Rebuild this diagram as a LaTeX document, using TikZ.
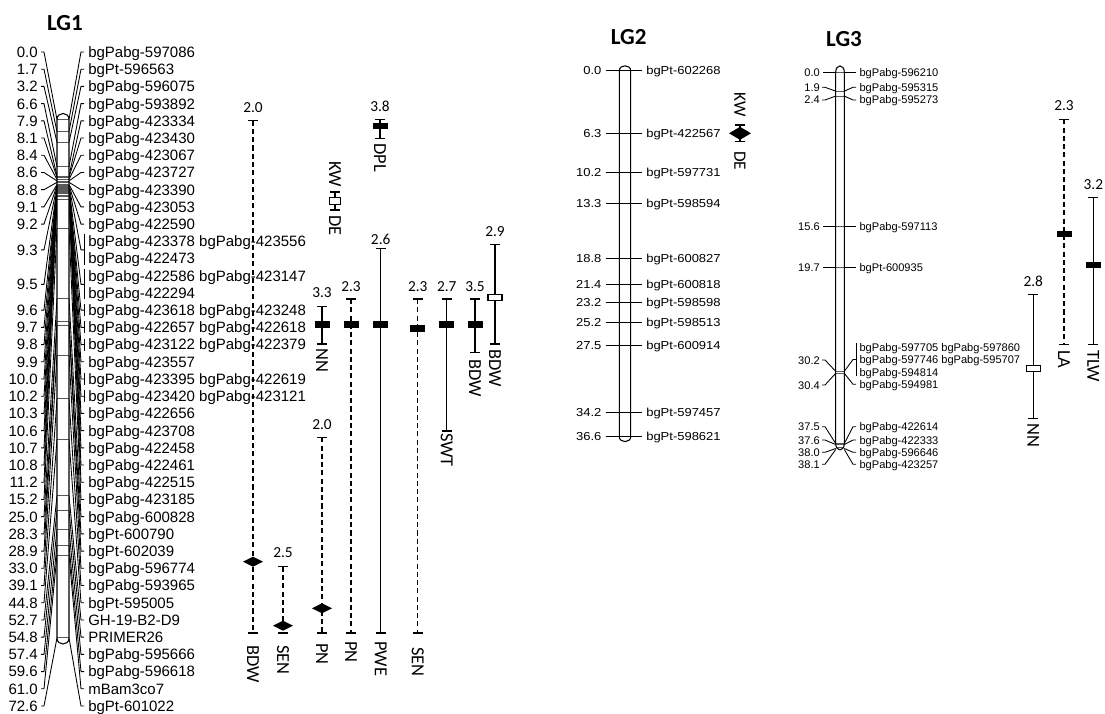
\documentclass[tikz,border=0pt]{standalone}
\usepackage{fontspec}
\setmainfont{Liberation Sans}
\newfontfamily\carl{Carlito}
\newfontfamily\lgtwo[FakeStretch=1.12]{Liberation Sans}
\tikzset{
 conn/.style={line width=0.65pt},
 qline/.style={line width=0.9pt},
 qdash/.style={line width=0.9pt, dash pattern=on 3.8pt off 2.4pt},
 band/.style={line width=0.6pt, black!65},
 chromo/.style={line width=0.8pt},
 lab1/.style={inner sep=0pt, font=\fontsize{11.25pt}{12pt}\selectfont},
 lab2/.style={inner sep=0pt, font=\lgtwo\fontsize{8.7pt}{10pt}\selectfont},
 lab3/.style={inner sep=0pt, font=\fontsize{8.3pt}{10pt}\selectfont},
 num/.style={inner sep=0pt, font=\carl\fontsize{11.5pt}{12pt}\selectfont},
 trait/.style={inner sep=0pt, rotate=-90, anchor=west, font=\carl\fontsize{13.8pt}{14pt}\selectfont},
 traitb/.style={inner sep=0pt, rotate=-90, anchor=west, font=\carl\fontsize{13pt}{14pt}\selectfont},
 title/.style={inner sep=0pt, font=\carl\bfseries\fontsize{17.25pt}{18pt}\selectfont},
}
% chromosome outline: #1 style, #2 xl, #3 xr, #4 ytop, #5 ybot, #6 cap control offset
\newcommand\mychromo[6]{%
 \path[#1] (#2,#4) -- (#2,#5) .. controls (#2,#5+#6) and (#3,#5+#6) .. (#3,#5) -- (#3,#4) .. controls (#3,#4-#6) and (#2,#4-#6) .. cycle;}
% QTL: #1 x, #2 ytop, #3 ybot, #4 style, #5 number y, #6 number, #7 label top, #8 label
\newcommand\myqtl[8]{%
 \draw[#4] (#1,#2) -- (#1,#3);
 \draw[qline] (#1-5,#2) -- (#1+5,#2);
 \draw[qline] (#1-5,#3) -- (#1+5,#3);
 \node[num] at (#1,#5) {#6};
 \node[trait] at (#1,#7) {#8};}
\newcommand\blackbox[3]{\fill (#1-7.5,#2-#3) rectangle (#1+7.5,#2+#3);}
\newcommand\openbox[2]{\draw[qline,fill=white] (#1-7,#2-3) rectangle (#1+7,#2+3);}
\newcommand\diam[4]{\fill (#1-#3,#2) -- (#1,#2-#4) -- (#1+#3,#2) -- (#1,#2+#4) -- cycle;}
\begin{document}
\begin{tikzpicture}[x=0.75pt,y=-0.75pt]
\useasboundingbox (0,0) rectangle (1105,713);
\fill[white] (0,0) rectangle (1105,713);

% ================= LG1 =================
\node[title] (t1) at (65,23) {LG1};
\foreach \n/\cm/\rtx in {1/0.0/bgPabg-597086, 2/1.7/bgPt-596563, 3/3.2/bgPabg-596075,
 4/6.6/bgPabg-593892, 5/7.9/bgPabg-423334, 6/8.1/bgPabg-423430, 7/8.4/bgPabg-423067,
 8/8.6/bgPabg-423727, 9/8.8/bgPabg-423390, 10/9.1/bgPabg-423053, 11/9.2/bgPabg-422590,
 16/9.6/bgPabg-423618 bgPabg-423248, 17/9.7/bgPabg-422657 bgPabg-422618,
 18/9.8/bgPabg-423122 bgPabg-422379, 19/9.9/bgPabg-423557,
 20/10.0/bgPabg-423395 bgPabg-422619, 21/10.2/bgPabg-423420 bgPabg-423121,
 22/10.3/bgPabg-422656, 23/10.6/bgPabg-423708, 24/10.7/bgPabg-422458,
 25/10.8/bgPabg-422461, 26/11.2/bgPabg-422515, 27/15.2/bgPabg-423185,
 28/25.0/bgPabg-600828, 29/28.3/bgPt-600790, 30/28.9/bgPt-602039,
 31/33.0/bgPabg-596774, 32/39.1/bgPabg-593965, 33/44.8/bgPt-595005,
 34/52.7/GH-19-B2-D9, 35/54.8/PRIMER26, 36/57.4/bgPabg-595666,
 37/59.6/bgPabg-596618, 38/61.0/mBam3co7, 39/72.6/bgPt-601022}{
 \pgfmathsetmacro\ry{52+(\n-1)*17.21}
 \pgfmathsetmacro\yl{119.5+7.14*\cm}
 \draw[conn] (41,\ry) -- (44,\ry) -- (57,\yl);
 \draw[conn] (69,\yl) -- (81,\ry) -- (84,\ry);
 \node[lab1, anchor=base east] (a\n) at (38,\ry+5.4) {\cm};
 \node[lab1, anchor=base west] (b\n) at (88,\ry+5.4) {\rtx};
}
% grouped rows 12-13 (9.3) and 14-15 (9.5)
\foreach \n/\rtx in {12/bgPabg-423378 bgPabg-423556, 13/bgPabg-422473,
 14/bgPabg-422586 bgPabg-423147, 15/bgPabg-422294}{
 \pgfmathsetmacro\ry{52+(\n-1)*17.21}
 \node[lab1, anchor=base west] (b\n) at (88,\ry+5.4) {\rtx};
}
\foreach \n/\cm in {12/9.3, 14/9.5}{
 \pgfmathsetmacro\ry{52+(\n-1)*17.21}
 \pgfmathsetmacro\rm{\ry+8.6}
 \pgfmathsetmacro\yl{119.5+7.14*\cm}
 \draw[conn] (41,\rm) -- (44,\rm) -- (57,\yl);
 \draw[conn] (69,\yl) -- (81,\rm) -- (84.5,\rm);
 \draw[conn] (84.5,\ry-7) -- (84.5,\ry+17.21+6);
 \node[lab1, anchor=base east] (a\n) at (38,\rm+5.4) {\cm};
}
\foreach \n in {16,17,18,20,21}{
 \pgfmathsetmacro\ry{52+(\n-1)*17.21}
 \draw[conn] (84.5,\ry-6) -- (84.5,\ry+6);
}
% chromosome LG1
\mychromo{fill=white}{57}{69}{119.5}{638}{8}
\foreach \cm in {0.0,1.7,3.2,6.6,7.9,8.1,8.4,8.6,8.8,9.1,9.2,9.3,9.5,9.6,9.7,9.8,9.9,10.0,10.2,10.3,10.6,10.7,10.8,11.2,15.2,25.0,28.3,28.9,33.0,39.1,44.8,52.7,54.8,57.4,59.6,61.0,72.6}{
 \pgfmathsetmacro\yl{119.5+7.14*\cm}
 \draw[band] (57,\yl) -- (69,\yl);
}
\mychromo{draw,chromo}{57}{69}{119.5}{638}{8}

% QTLs LG1
\myqtl{253}{120.7}{633}{qdash}{107.7}{2.0}{645}{BDW}
\diam{253}{561.7}{10}{5}
\myqtl{283}{566.7}{633}{qdash}{553}{2.5}{645}{SEN}
\diam{283}{625.7}{10}{5}
\myqtl{322}{306.7}{344}{qline}{293}{3.3}{348}{NN}
\blackbox{322}{324.3}{3.5}
\myqtl{322}{437.3}{633}{qdash}{425}{2.0}{643}{PN}
\diam{322}{608.3}{10}{5}
\myqtl{351}{299}{633}{qdash}{286.7}{2.3}{641}{PN}
\blackbox{351}{324.3}{3.5}
\myqtl{380.7}{248.3}{633}{qline}{239}{2.6}{641}{PWE}
\blackbox{380.7}{324.3}{3.5}
\myqtl{380}{119.3}{138.3}{qline}{106.7}{3.8}{143}{DPL}
\blackbox{380}{126}{2.8}
\myqtl{417.7}{299}{633}{qdash}{286.7}{2.3}{647}{SEN}
\blackbox{417.7}{328.3}{3.5}
\myqtl{446.7}{299}{431}{qline}{286.7}{2.7}{433}{SWT}
\blackbox{446.7}{324.3}{3.5}
\myqtl{475}{299}{352.7}{qline}{286.7}{3.5}{359}{BDW}
\blackbox{475}{324.3}{3.5}
\myqtl{495}{244.3}{344}{qline}{231.7}{2.9}{349}{BDW}
\openbox{495}{297.7}
% KW / DE on LG1
\draw[qline] (335,192) -- (335,210);
\draw[qline] (330,192) -- (340,192);
\draw[qline] (330,210) -- (340,210);
\draw[qline,fill=white] (329.5,197.5) rectangle (340.5,204.5);
\node[trait, anchor=east] (kw1) at (335,187) {KW};
\node[trait] (de1) at (335,215) {DE};

% ================= LG2 =================
\node[title] (t2) at (628.7,37) {LG2};
\mychromo{fill=white}{619.3}{630.7}{70.7}{436.7}{6.5}
\foreach \cm/\mk in {0.0/bgPt-602268, 6.3/bgPt-422567, 10.2/bgPt-597731, 13.3/bgPt-598594,
 18.8/bgPt-600827, 21.4/bgPt-600818, 23.2/bgPt-598598, 25.2/bgPt-598513, 27.5/bgPt-600914,
 34.2/bgPt-597457, 36.6/bgPt-598621}{
 \pgfmathsetmacro\yy{70.7+10*\cm}
 \draw[conn] (605.7,\yy) -- (641.7,\yy);
 \node[lab2, anchor=base east] at (601.7,\yy+4.15) {\cm};
 \node[lab2, anchor=base west] at (646,\yy+4.15) {\mk};
}
\mychromo{draw,chromo}{619.3}{630.7}{70.7}{436.7}{6.5}
% KW/DE LG2
\draw[qline] (740,125) -- (740,141.7);
\draw[qline] (735,125) -- (745,125);
\draw[qline] (735,141.7) -- (745,141.7);
\diam{740}{133.3}{11}{6.5}
\node[traitb, anchor=east] (kw2) at (740,117) {KW};
\node[traitb] (de2) at (740,151) {DE};

% ================= LG3 =================
\node[title] (t3) at (844,39.2) {LG3};
% straight connectors
\foreach \cm/\mk in {0.0/bgPabg-596210, 15.6/bgPabg-597113, 19.7/bgPt-600935}{
 \pgfmathsetmacro\yy{72.3+9.9*\cm}
 \draw[conn] (823,\yy) -- (856,\yy);
 \node[lab3, anchor=base east] at (820,\yy+4) {\cm};
 \node[lab3, anchor=base west] at (859.3,\yy+4) {\mk};
}
% fanned connectors
\foreach \cm/\ly/\mk in {1.9/87.3/bgPabg-595315, 2.4/100/bgPabg-595273,
 37.5/426.7/bgPabg-422614, 37.6/440/bgPabg-422333, 38.0/452.3/bgPabg-596646,
 38.1/464.3/bgPabg-423257}{
 \pgfmathsetmacro\yy{72.3+9.9*\cm}
 \draw[conn] (822,\ly) -- (825,\ly) -- (835.7,\yy);
 \draw[conn] (844.3,\yy) -- (853,\ly) -- (856,\ly);
 \node[lab3, anchor=base east] at (820,\ly+4) {\cm};
 \node[lab3, anchor=base west] at (859.3,\ly+4) {\mk};
}
% 30.2 / 30.4
\draw[conn] (822,360) -- (825,360) -- (835.7,371.3);
\draw[conn] (822,385) -- (825,385) -- (835.7,373.3);
\node[lab3, anchor=base east] at (820,364) {30.2};
\node[lab3, anchor=base east] at (820,389) {30.4};
\draw[conn] (844.3,371.3) -- (853,359.5) -- (856,359.5);
\draw[conn] (856,342.7) -- (856,376);
\draw[conn] (844.3,373.3) -- (853,384.3) -- (856,384.3);
\node[lab3, anchor=base west] at (859.3,351.3) {bgPabg-597705 bgPabg-597860};
\node[lab3, anchor=base west] at (859.3,363) {bgPabg-597746 bgPabg-595707};
\node[lab3, anchor=base west] at (859.3,376.3) {bgPabg-594814};
\node[lab3, anchor=base west] at (859.3,388.3) {bgPabg-594981};
% chromosome LG3
\mychromo{fill=white}{835.7}{844.3}{72.3}{443.5}{8.5}
\foreach \cm in {0.0,1.9,2.4,15.6,19.7,30.2,30.4,37.5,37.6}{
 \pgfmathsetmacro\yy{72.3+9.9*\cm}
 \draw[band] (835.7,\yy) -- (844.3,\yy);
}
\draw[band] (836.5,447.5) -- (843.5,447.5);
\mychromo{draw,chromo}{835.7}{844.3}{72.3}{443.5}{8.5}
% QTLs LG3
\myqtl{1064}{119.3}{344.3}{qdash}{106}{2.3}{350}{LA}
\blackbox{1064}{234}{2.6}
\myqtl{1093.3}{197.7}{344.3}{qline}{185}{3.2}{350}{TLW}
\blackbox{1093.3}{265}{2.6}
\myqtl{1033.3}{294.3}{418.3}{qline}{281.7}{2.8}{423}{NN}
\openbox{1033.3}{368.3}
\end{tikzpicture}
\end{document}
